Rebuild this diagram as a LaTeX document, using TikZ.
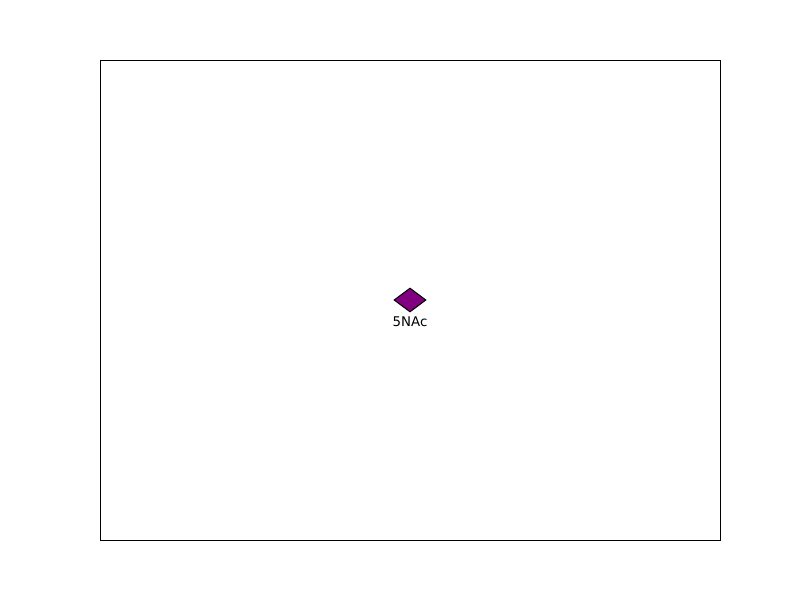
\documentclass[tikz,border=0pt]{standalone}
\usepackage{fontspec}
\setmainfont{DejaVu Sans}
\usetikzlibrary{shapes.geometric,positioning}
\definecolor{markpurple}{RGB}{128,0,128}
\begin{document}
\begin{tikzpicture}[x=0.75pt,y=-0.75pt]
    \useasboundingbox (0,0) rectangle (800,600);
    % Axes frame
    \draw[line width=0.75pt] (100,60) rectangle (720,540);
    % Marker
    \node[draw, diamond, fill=markpurple, inner sep=0pt, minimum width=24pt, minimum height=18pt, line width=0.75pt] (nac) at (410,300) {};
    % Label
    \node[inner sep=0pt, font=\fontsize{10}{12}\selectfont, below=3.2pt of nac] (naclabel) {5NAc};
\end{tikzpicture}
\end{document}
